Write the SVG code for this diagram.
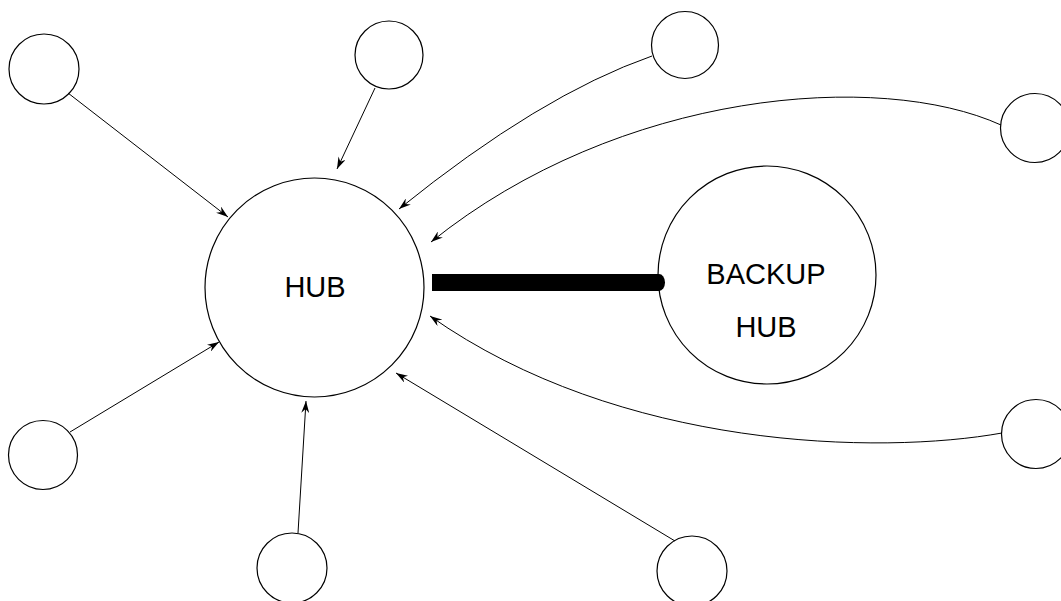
<svg xmlns="http://www.w3.org/2000/svg" width="1061" height="601" viewBox="0 0 1061 601">
<defs>
<style>
.node{fill:#fff;stroke:#000;stroke-width:1.2}
.conn{fill:none;stroke:#000;stroke-width:1}
.lbl{font-family:"Liberation Sans",Arial,sans-serif;font-size:29px;fill:#000;text-anchor:middle}
</style>
<marker id="arr" viewBox="0 0 12 8" refX="12" refY="4" markerWidth="12" markerHeight="8" markerUnits="userSpaceOnUse" orient="auto">
<path d="M0,0 L12,4 L0,8 L4,4 Z" fill="#000"/>
</marker>
</defs>
<rect width="1061" height="601" fill="#fff"/>
<g id="hub">
<circle class="node" cx="314.5" cy="287.5" r="109.5"/>
<text class="lbl" x="315" y="297">HUB</text>
</g>
<g id="backup-hub">
<circle class="node" cx="767" cy="275" r="109"/>
<text class="lbl" x="766" y="284">BACKUP</text>
<text class="lbl" x="766" y="337">HUB</text>
</g>
<g id="node-top-left"><circle class="node" cx="44" cy="69" r="35"/></g>
<g id="node-top-mid"><circle class="node" cx="389" cy="55" r="34"/></g>
<g id="node-top-right"><circle class="node" cx="685" cy="45" r="33.5"/></g>
<g id="node-right-top"><circle class="node" cx="1035" cy="128" r="34.5"/></g>
<g id="node-right-bottom"><circle class="node" cx="1036" cy="434" r="34.5"/></g>
<g id="node-bottom-right"><circle class="node" cx="692" cy="571" r="35"/></g>
<g id="node-bottom-mid"><circle class="node" cx="292" cy="568" r="35"/></g>
<g id="node-bottom-left"><circle class="node" cx="43" cy="455" r="34.5"/></g>
<g id="connectors">
<line class="conn" x1="68" y1="93" x2="228" y2="217" marker-end="url(#arr)"/>
<line class="conn" x1="375" y1="88" x2="337" y2="169" marker-end="url(#arr)"/>
<path class="conn" d="M652,56 Q540,95 399,209" marker-end="url(#arr)"/>
<path class="conn" d="M1001,125 C880,70 620,90 431,242" marker-end="url(#arr)"/>
<path class="conn" d="M1002,433 C880,455 620,450 430,316" marker-end="url(#arr)"/>
<line class="conn" x1="675" y1="541" x2="396" y2="373" marker-end="url(#arr)"/>
<line class="conn" x1="298" y1="533" x2="306" y2="401" marker-end="url(#arr)"/>
<line class="conn" x1="70" y1="432" x2="219" y2="342" marker-end="url(#arr)"/>
<path id="backup-link" d="M432,274 H659 A6 8.5 0 0 1 659,291 H432 Z" fill="#000"/>
</g>
</svg>
